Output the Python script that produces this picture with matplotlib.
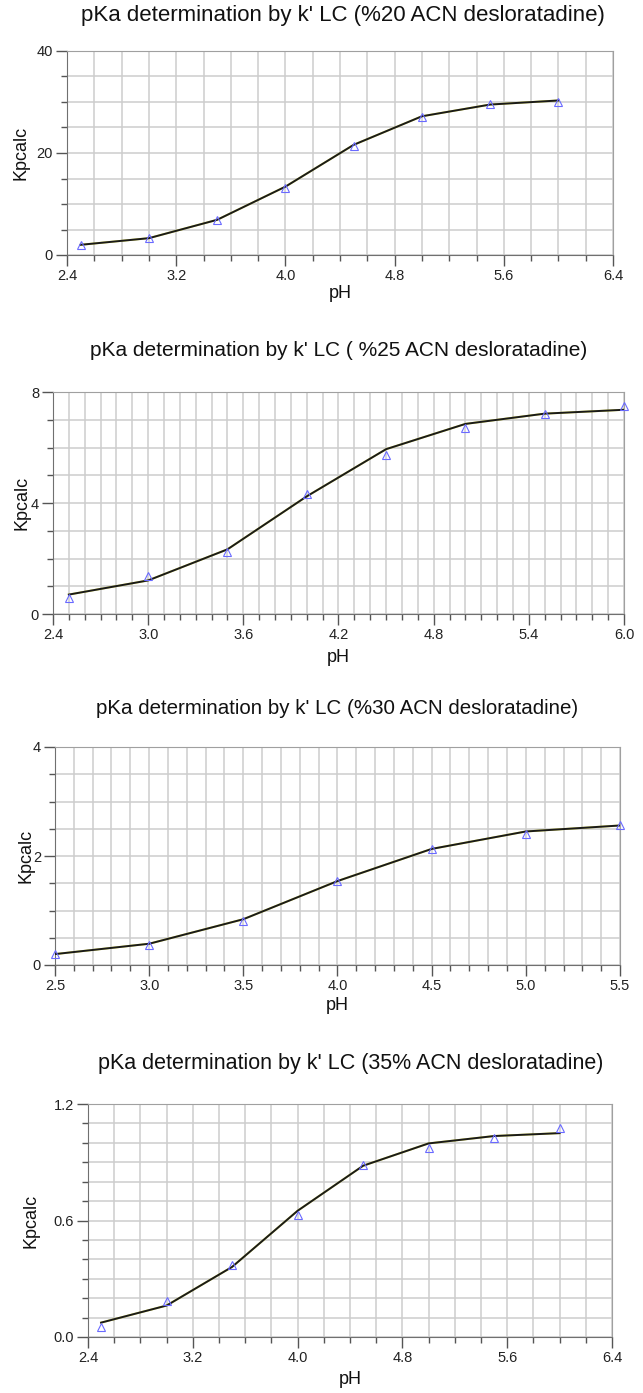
#!/usr/bin/env python3
"""pKa determination by k' LC for desloratadine at four ACN levels."""

import matplotlib
matplotlib.use("Agg")
import matplotlib.pyplot as plt
from matplotlib.ticker import MultipleLocator, FormatStrFormatter

plt.rcParams["font.family"] = ["Liberation Sans", "DejaVu Sans"]

# --- data ---
ph_20 = [2.5, 3.0, 3.5, 4.0, 4.5, 5.0, 5.5, 6.0]
fit_20 = [2.0, 3.3, 6.9, 13.4, 21.6, 27.2, 29.5, 30.3]
obs_20 = [1.9, 3.4, 6.8, 13.2, 21.4, 27.1, 29.6, 30.0]

ph_25 = [2.5, 3.0, 3.5, 4.0, 4.5, 5.0, 5.5, 6.0]
fit_25 = [0.70, 1.21, 2.33, 4.24, 5.94, 6.85, 7.22, 7.36]
obs_25 = [0.56, 1.37, 2.24, 4.34, 5.72, 6.71, 7.22, 7.51]

ph_30 = [2.5, 3.0, 3.5, 4.0, 4.5, 5.0, 5.5]
fit_30 = [0.20, 0.39, 0.84, 1.54, 2.13, 2.45, 2.56]
obs_30 = [0.21, 0.36, 0.80, 1.55, 2.13, 2.41, 2.57]

ph_35 = [2.5, 3.0, 3.5, 4.0, 4.5, 5.0, 5.5, 6.0]
fit_35 = [0.074, 0.162, 0.361, 0.650, 0.882, 0.997, 1.035, 1.050]
obs_35 = [0.050, 0.186, 0.370, 0.629, 0.885, 0.971, 1.023, 1.074]

titles = [
    "pKa determination by k' LC (%20 ACN desloratadine)",
    "pKa determination by k' LC ( %25 ACN desloratadine)",
    "pKa determination by k' LC (%30 ACN desloratadine)",
    "pKa determination by k' LC (35% ACN desloratadine)",
]

W, H = 643, 1393

# pixel boxes (left, top, right, bottom) and axis setup for each panel
panels = [
    dict(box=(67, 51, 613, 255), x=ph_20, fit=fit_20, obs=obs_20,
         xlim=(2.4, 6.4), xmaj=0.8, xmin=0.2, ylim=(0, 40), ymaj=20, ymin=5,
         yfmt="%d", title_y=16, title_x=343, title_fs=16, xlab_y=294, ylab_x=21),
    dict(box=(53, 392, 624, 614), x=ph_25, fit=fit_25, obs=obs_25,
         xlim=(2.4, 6.0), xmaj=0.6, xmin=0.1, ylim=(0, 8), ymaj=4, ymin=1,
         yfmt="%d", title_y=351, title_x=339, title_fs=15, xlab_y=657, ylab_x=22),
    dict(box=(55, 747, 620, 965), x=ph_30, fit=fit_30, obs=obs_30,
         xlim=(2.5, 5.5), xmaj=0.5, xmin=0.1, ylim=(0, 4), ymaj=2, ymin=0.5,
         yfmt="%d", title_y=708, title_x=337, title_fs=14.8, xlab_y=1005, ylab_x=26),
    dict(box=(88, 1104, 612, 1337), x=ph_35, fit=fit_35, obs=obs_35,
         xlim=(2.4, 6.4), xmaj=0.8, xmin=0.2, ylim=(0, 1.2), ymaj=0.6, ymin=0.1,
         yfmt="%.1f", title_y=1063, title_x=351, title_fs=15.5, xlab_y=1380, ylab_x=31),
]

fig = plt.figure(figsize=(W / 100, H / 100), dpi=100)
fig.patch.set_facecolor("white")

for p, title in zip(panels, titles):
    l, t, r, b = p["box"]
    ax = fig.add_axes([l / W, 1 - b / H, (r - l) / W, (b - t) / H])
    ax.set_xlim(*p["xlim"])
    ax.set_ylim(*p["ylim"])

    ax.xaxis.set_major_locator(MultipleLocator(p["xmaj"]))
    ax.xaxis.set_minor_locator(MultipleLocator(p["xmin"]))
    ax.yaxis.set_major_locator(MultipleLocator(p["ymaj"]))
    ax.yaxis.set_minor_locator(MultipleLocator(p["ymin"]))
    ax.xaxis.set_major_formatter(FormatStrFormatter("%.1f"))
    ax.yaxis.set_major_formatter(FormatStrFormatter(p["yfmt"]))

    ax.grid(True, which="both", color="#cdcdcd", linewidth=1.1)
    ax.set_axisbelow(True)
    ax.tick_params(which="major", length=8, width=1.0, color="#555555",
                   labelsize=10.5, labelcolor="#222222", pad=2)
    ax.tick_params(which="minor", length=4, width=1.0, color="#555555")
    for lab in ax.get_xticklabels() + ax.get_yticklabels():
        lab.set_family(["Liberation Sans Narrow", "Liberation Sans", "DejaVu Sans"])

    for side in ["top", "right"]:
        ax.spines[side].set_color("#a0a0a0")
    for side in ["left", "bottom"]:
        ax.spines[side].set_color("#707070")

    ax.plot(p["x"], p["fit"], color="#e6e600", linewidth=1.5, alpha=0.6, zorder=3)
    ax.plot(p["x"], p["fit"], color="#1a1a1a", linewidth=1.4, zorder=4)
    ax.plot(p["x"], p["obs"], linestyle="none", marker="^", markersize=5.5,
            markerfacecolor="none", markeredgecolor="#6a6aff",
            markeredgewidth=0.8, zorder=5, clip_on=False)

    fig.text(p["title_x"] / W, 1 - p["title_y"] / H, title, ha="center",
             va="center", fontsize=p["title_fs"], color="#111111")
    fig.text(((l + r) / 2) / W, 1 - p["xlab_y"] / H, "pH", ha="center",
             va="center", fontsize=13, color="#111111")
    fig.text(p["ylab_x"] / W, 1 - ((t + b) / 2) / H, "Kpcalc", ha="center",
             va="center", rotation=90, fontsize=13, color="#111111")

fig.savefig("out.png", dpi=100, facecolor="white")
